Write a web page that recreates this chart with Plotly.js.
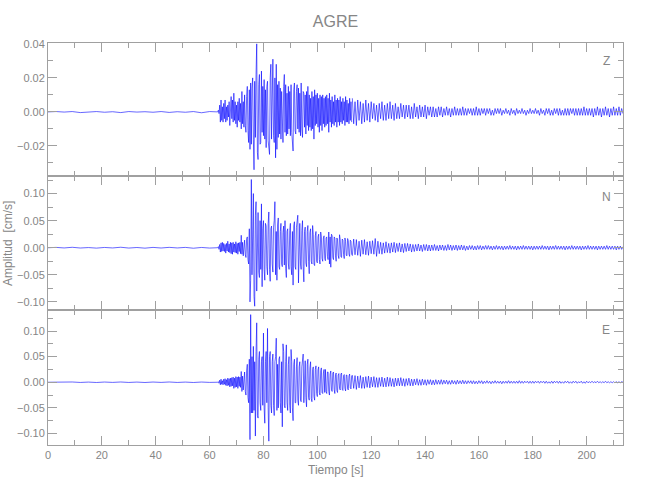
<!DOCTYPE html>
<html>
<head>
<meta charset="utf-8">
<script src="https://cdn.plot.ly/plotly-3.0.1.min.js"></script>
<style>html,body{margin:0;padding:0;background:#fff;}#chart{width:650px;height:500px;}</style>
</head>
<body>
<div id="chart"></div>
<script>
// Station and components
const station = "AGRE";
const components = ["Z", "N", "E"];
const xTitle = "Tiempo [s]";
const yTitle = "Amplitud  [cm/s]";
const xTickVals = [0, 20, 40, 60, 80, 100, 120, 140, 160, 180, 200];

// sampling: pre-event every 3 s (0..63), strong motion every 0.25 s (63..112.75), coda every 0.5 s (113..213.5)
const preStart = 0, preStep = 3;
const strongStart = 63, strongStep = 0.25;
const codaStart = 113, codaStep = 0.5;

// ---------- Z component (cm/s) ----------
const zPre = [0,.0002,-.0001,.0002,-.0004,.0001,.0002,-.0002,.0001,-.0004,.0002,-.0001,.0001,-.0002,.0002,-.0003,.0001,-.0002,.0002,-.0005,.0002,0];
const zStrong = [
 0,.001,-.001,.004,-.006,.007,-.005,.003,-.006,.005,-.004,.007,-.006,.003,-.005,.004,-.003,.006,-.008,.005,
 .009,-.004,.007,-.006,.011,-.005,.006,-.007,.004,-.009,.006,-.005,.008,-.006,.005,-.010,.012,-.007,.006,-.009,
 .010,-.008,-.012,.009,.015,-.011,-.018,.013,-.022,.017,-.019,.014,.020,-.016,-.034,.018,-.015,.022,.040,-.024,
 -.028,.016,.022,-.019,-.018,.024,-.012,.015,-.014,.019,-.016,.013,-.021,.015,.018,-.017,-.020,-.025,.020,.028,
 -.016,.022,.031,-.014,-.018,.020,-.027,.028,-.022,.016,-.015,.018,-.013,.014,-.016,.012,-.014,-.018,.015,.022,
 -.012,.016,-.014,.011,-.013,.015,-.010,.012,-.014,.016,-.012,-.018,-.023,.013,.017,-.011,-.013,.012,.016,-.010,
 .014,-.012,.011,-.014,.017,-.010,-.015,.012,.011,-.009,.010,-.013,.012,-.008,.015,-.011,.010,-.009,.008,-.011,
 .012,-.010,.009,-.016,.013,-.008,.010,-.007,.011,-.009,.008,-.012,.010,-.008,.009,-.011,.010,-.007,.008,-.009,
 .009,-.008,.010,-.007,.008,-.012,.011,-.006,.007,-.009,.009,-.007,.006,-.008,.010,-.006,.007,-.009,.008,-.006,
 .007,-.008,.009,-.006,.006,-.007,.008,-.005,.006,-.008,.009,-.006,.007,-.006,.005,-.007,.008,-.005,.006,-.006];
const zCoda = [
 .008,-.007,.006,-.008,.007,-.005,.006,-.007,.005,-.006,.007,-.005,.005,-.006,.006,-.004,.005,-.005,.004,-.006,
 .005,-.004,.006,-.005,.004,-.005,.005,-.004,.006,-.004,.004,-.005,.005,-.004,.003,-.004,.005,-.003,.004,-.004,
 .004,-.003,.004,-.004,.003,-.004,.005,-.003,.003,-.004,.004,-.003,.003,-.003,.004,-.004,.003,-.002,.003,-.003,
 .003,-.003,.002,-.003,.003,-.002,.003,-.003,.002,-.002,.003,-.002,.002,-.003,.002,-.002,.003,-.002,.002,-.002,
 .002,-.002,.003,-.002,.002,-.002,.002,-.001,.002,-.002,.002,-.002,.003,-.002,.002,-.002,.002,-.001,.002,-.002,
 .002,-.001,.002,-.002,.001,-.002,.002,-.001,.002,-.001,.002,-.002,.001,-.001,.002,-.001,.001,-.002,.002,-.001,
 .001,-.002,.002,-.001,.001,-.001,.002,-.001,.001,-.002,.001,-.001,.002,-.001,.001,-.001,.002,-.001,.001,-.002,
 .002,-.001,.001,-.002,.002,-.001,.002,-.002,.001,-.002,.002,-.001,.002,-.002,.002,-.002,.001,-.002,.002,-.002,
 .002,-.002,.002,-.001,.002,-.002,.002,-.002,.002,-.002,.002,-.002,.003,-.002,.002,-.002,.002,-.002,.002,-.003,
 .002,-.002,.003,-.002,.002,-.003,.002,-.002,.003,-.002,.002,-.003,.002,-.002,.003,-.002,.002,-.002,.003,-.002,
 .002,-.001];

// ---------- N component (cm/s) ----------
const nPre = [0,.0006,-.0004,.0008,-.0005,.0003,-.0007,.0005,-.0004,.0009,-.0006,.0004,-.0008,.0006,-.0005,.0007,-.0004,.0006,-.0009,.0005,-.0006,0];
const nStrong = [
 0,.002,-.003,.006,-.008,.009,-.007,.010,-.006,.008,-.007,.006,-.010,.008,-.006,.012,-.008,.007,-.009,.010,
 -.011,.009,-.012,.010,-.008,.007,-.009,.011,-.010,.008,-.012,.009,-.007,.010,-.011,.023,-.012,.010,-.015,.012,
 .014,-.012,-.018,.016,.020,-.022,-.030,.035,-.100,-.060,.126,-.050,.070,.100,-.090,-.108,.060,.085,-.080,.040,
 .065,-.045,-.055,.050,-.040,.081,-.072,.035,.050,-.040,-.060,.045,.040,-.035,-.050,.045,.066,-.040,-.062,.035,
 .040,-.030,-.045,.038,.050,.085,-.050,.030,-.060,.042,.055,-.035,-.040,.030,.045,-.030,-.035,.028,.040,-.032,
 .050,-.038,-.055,.030,.035,-.030,-.040,.032,.045,-.035,-.050,.030,-.069,.040,.048,-.035,-.040,.038,.055,.060,
 -.065,.035,.045,-.030,-.040,.032,.050,-.035,-.063,.030,.038,-.028,-.035,.030,.041,-.025,-.048,.028,.035,-.025,
 -.030,.041,.025,-.030,-.033,.022,.030,-.025,-.028,.020,.025,-.022,-.030,.029,.020,-.020,-.025,.018,.022,-.020,
 -.024,.018,.020,-.016,-.022,.029,-.030,.020,-.036,.025,.022,-.018,-.022,.020,.018,-.015,-.025,.018,.016,-.014,
 -.020,.024,.015,-.016,-.018,.016,.014,-.013,-.020,.018,.012,-.014,-.015,.017,.013,-.012,-.016,.014,.012,-.013];
const nCoda = [
 -.015,.016,-.013,.015,-.014,.012,-.016,.014,-.012,.015,-.013,.011,-.014,.012,-.011,.013,-.012,.017,-.016,.012,
 -.011,.010,-.012,.009,-.010,.011,-.009,.008,-.010,.009,-.008,.010,-.009,.008,-.007,.009,-.008,.007,-.009,.008,
 -.007,.008,-.006,.007,-.008,.006,-.007,.006,-.006,.007,-.006,.005,-.007,.006,-.005,.006,-.006,.005,-.006,.005,
 -.005,.006,-.005,.004,-.006,.005,-.004,.005,-.005,.004,-.005,.006,-.004,.005,-.005,.004,-.004,.005,-.005,.004,
 -.004,.005,-.004,.004,-.005,.003,-.004,.004,-.003,.004,-.004,.003,-.004,.004,-.003,.004,-.004,.003,-.003,.004,
 -.003,.004,-.003,.003,-.004,.003,-.003,.004,-.003,.003,-.003,.003,-.004,.003,-.003,.003,-.003,.004,-.003,.003,
 -.003,.003,-.004,.003,-.003,.003,-.003,.004,-.003,.003,-.003,.003,-.003,.003,-.004,.003,-.003,.003,-.003,.003,
 -.003,.004,-.003,.003,-.003,.003,-.004,.003,-.003,.003,-.003,.004,-.003,.003,-.003,.003,-.003,.003,-.004,.003,
 -.003,.003,-.003,.004,-.003,.003,-.003,.003,-.003,.003,-.004,.003,-.003,.003,-.003,.004,-.003,.003,-.003,.003,
 -.003,.003,-.004,.003,-.003,.003,-.003,.003,-.003,.004,-.003,.003,-.003,.003,-.003,.003,-.004,.003,-.003,.003,
 -.003,.002];

// ---------- E component (cm/s) ----------
const ePre = [0,.0004,-.0003,.0005,-.0004,.0003,-.0005,.0004,-.0003,.0005,-.0004,.0003,-.0005,.0004,-.0003,.0005,-.0004,.0003,-.0005,.0004,-.0003,0];
const eStrong = [
 0,.001,-.002,.004,-.005,.006,-.004,.003,-.005,.006,-.004,.007,-.006,.005,-.007,.008,-.006,.007,-.009,.008,
 -.008,.009,-.007,.010,-.012,.008,-.010,.011,-.009,.010,-.012,.011,-.008,.010,-.010,.021,-.018,.012,-.015,.014,
 .020,-.018,-.025,.022,.035,-.030,-.040,.045,-.112,.132,-.060,.050,-.060,.070,-.055,.040,-.105,.060,.116,-.065,
 -.070,.045,.060,-.040,-.055,.040,.050,-.045,.096,-.050,-.080,.040,.060,-.040,.105,-.050,-.115,.050,.060,-.045,
 -.060,.040,.055,-.045,-.065,.040,.050,.086,-.055,.035,-.050,.045,.050,-.040,-.060,.040,-.087,.075,.060,-.045,
 -.050,.040,.073,-.040,-.055,.035,.050,-.045,-.060,.064,.040,-.050,-.075,.035,.045,-.040,-.040,.030,.048,-.035,
 -.045,.030,.040,-.035,-.038,.030,.045,.055,-.040,.030,.042,-.030,-.048,.035,.045,-.030,-.035,.028,.040,-.032,
 -.038,.025,.030,-.028,-.035,.025,.032,-.022,-.028,.024,.030,-.020,-.025,.022,.028,-.020,-.022,.018,.025,-.020,
 .025,-.018,-.022,.020,.020,-.018,-.025,.016,.022,-.015,-.018,.018,.020,-.014,-.022,.015,.018,-.016,-.020,.014,
 .017,-.012,-.015,.016,.018,-.014,-.016,.013,.015,-.012,-.017,.014,.014,-.013,-.015,.012,.016,-.011,-.013,.013];
const eCoda = [
 .014,-.012,.013,-.014,.012,-.011,.013,-.012,.010,-.012,.011,-.010,.012,-.011,.010,-.009,.011,-.010,.009,-.010,
 .009,-.008,.010,-.009,.008,-.009,.010,-.008,.009,-.008,.007,-.009,.008,-.007,.008,-.007,.009,-.007,.007,-.008,
 .007,-.006,.008,-.007,.006,-.007,.006,-.005,.007,-.006,.005,-.006,.006,-.005,.005,-.006,.005,-.004,.005,-.005,
 .004,-.005,.005,-.004,.004,-.004,.005,-.004,.004,-.003,.004,-.004,.003,-.004,.004,-.003,.003,-.004,.004,-.003,
 .003,-.003,.004,-.003,.003,-.003,.003,-.002,.003,-.003,.003,-.003,.002,-.003,.003,-.002,.003,-.003,.002,-.002,
 .003,-.002,.002,-.003,.002,-.002,.003,-.002,.002,-.002,.002,-.003,.002,-.002,.002,-.002,.003,-.002,.002,-.002,
 .002,-.002,.002,-.002,.003,-.002,.002,-.002,.002,-.001,.002,-.002,.002,-.002,.002,-.002,.002,-.001,.002,-.002,
 .002,-.001,.002,-.002,.002,-.002,.001,-.002,.002,-.002,.002,-.001,.002,-.002,.002,-.002,.001,-.002,.002,-.001,
 .002,-.002,.001,-.002,.002,-.001,.002,-.002,.001,-.001,.002,-.002,.001,-.002,.002,-.001,.001,-.001,.002,-.001,
 .001,-.001,.002,-.001,.001,-.001,.001,-.001,.002,-.001,.001,-.001,.001,-.001,.001,-.001,.001,-.001,.001,-.001,
 .001,0];

const lineColor = "rgb(0,0,255)";
const axisColor = "#a0a0a0";
const textColor = "#868686";
const fontFam = "'Liberation Sans', Arial, sans-serif";

function tr(pre, strong, coda, ax) {
  const common = {type:"scatter", mode:"lines", xaxis:"x"+ax, yaxis:"y"+ax,
    line:{color:lineColor, width:0.6}, hoverinfo:"skip", showlegend:false};
  return [
    Object.assign({x0:preStart, dx:preStep, y:pre}, common),
    Object.assign({x0:strongStart, dx:strongStep, y:strong}, common),
    Object.assign({x0:codaStart, dx:codaStep, y:coda}, common)
  ];
}
const data = [].concat(tr(zPre, zStrong, zCoda, ""), tr(nPre, nStrong, nCoda, "2"), tr(ePre, eStrong, eCoda, "3"));

const tickFont = {family:fontFam, size:11, color:textColor};
function xax(anchor, labels) {
  return {domain:[0,1], anchor:anchor, range:[0,213.5], tickvals:xTickVals, showticklabels:labels,
    ticks:"inside", ticklen:9, tickcolor:axisColor, showline:true, linecolor:axisColor, linewidth:1,
    mirror:"ticks", showgrid:false, zeroline:false, tickfont:tickFont,
    minor:{dtick:10, tick0:0, ticks:"inside", ticklen:5, tickcolor:axisColor}};
}
function yax(anchor, dom, rng, dt, mdt) {
  return {domain:dom, anchor:anchor, range:rng, dtick:dt, tick0:0, tickformat:".2f",
    ticks:"inside", ticklen:9, tickcolor:axisColor, showline:true, linecolor:axisColor, linewidth:1,
    mirror:"ticks", showgrid:false, zeroline:false, tickfont:tickFont,
    minor:{dtick:mdt, tick0:0, ticks:"inside", ticklen:5, tickcolor:axisColor}};
}
const annFont = {family:fontFam, size:12, color:textColor};

const layout = {
  width:650, height:500,
  margin:{l:48, r:27, t:43, b:55},
  paper_bgcolor:"#fff", plot_bgcolor:"#fff",
  title:{text:station, font:{family:fontFam, size:16, color:textColor}, x:0.5, xref:"paper", xanchor:"center", y:0.958, yref:"container", yanchor:"middle"},
  xaxis: xax("y", false),
  xaxis2: xax("y2", false),
  xaxis3: xax("y3", true),
  yaxis: yax("x", [0.6699,1], [-0.0375,0.0405], 0.02, 0.01),
  yaxis2: yax("x2", [0.3358,0.6699], [-0.115,0.133], 0.05, 0.025),
  yaxis3: yax("x3", [0,0.3358], [-0.1225,0.141], 0.05, 0.025),
  annotations:[
    {text:components[0], xref:"paper", yref:"paper", x:0.9705, y:0.955, xanchor:"center", yanchor:"middle", showarrow:false, font:annFont},
    {text:components[1], xref:"paper", yref:"paper", x:0.9705, y:0.617, xanchor:"center", yanchor:"middle", showarrow:false, font:annFont},
    {text:components[2], xref:"paper", yref:"paper", x:0.9705, y:0.285, xanchor:"center", yanchor:"middle", showarrow:false, font:annFont},
    {text:yTitle, xref:"paper", yref:"paper", x:-0.0696, y:0.5025, xanchor:"center", yanchor:"middle", textangle:-90, showarrow:false, font:annFont},
    {text:xTitle, xref:"paper", yref:"paper", x:0.5, y:-0.0622, xanchor:"center", yanchor:"middle", showarrow:false, font:annFont}
  ]
};

Plotly.newPlot("chart", data, layout, {staticPlot:true, displayModeBar:false});
</script>
</body>
</html>
